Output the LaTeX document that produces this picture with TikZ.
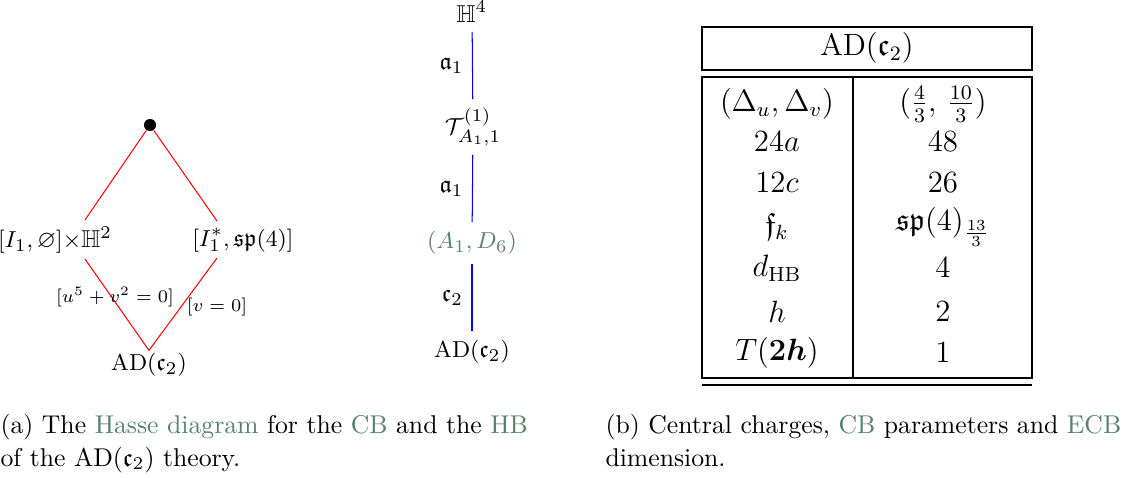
\documentclass[tikz,border=0pt]{standalone}
\usepackage{amsmath,amssymb}
\usepackage{tikz}
\usetikzlibrary{calc}
\definecolor{linkgreen}{RGB}{88,128,110}
\newcommand{\ADc}{\mathrm{AD}(\mathfrak{c}_2)}

\begin{document}
\begin{tikzpicture}[x=0.01367cm,y=-0.01367cm,
  dot/.style={circle,fill,inner sep=0pt,minimum size=4.7pt},
  hasse/.style={red,line width=0.4pt},
  chain/.style={blue,line width=0.4pt},
  diag/.style={font=\fontsize{9.5}{11.4}\selectfont},
  leg/.style={font=\fontsize{7.1}{8.5}\selectfont},
  cell/.style={font=\large,inner sep=1pt},
  tabline/.style={line width=1pt}]
  \useasboundingbox (0,0) rectangle (1139,477);
  % ---- left: Hasse diagram of the CB
  \node[dot] (top) at (150,125) {};
  \node[diag] (L) at (55,240) {$[I_1,\varnothing]{\times}\mathbb{H}^2$};
  \node[diag] (R) at (243,240) {$[I_1^*,\mathfrak{sp}(4)]$};
  \node[diag,inner sep=1pt] (B) at (149,365) {$\ADc$};
  \coordinate (Lhi) at (85,220); \coordinate (Llo) at (85,259);
  \coordinate (Rhi) at (217,221); \coordinate (Rlo) at (217,258);
  \draw[hasse] (top) -- (Lhi);
  \draw[hasse] (top) -- (Rhi);
  \draw[hasse] (Llo) -- (B.north);
  \draw[hasse] (Rlo) -- (B.north);
  \node[leg] (lu) at (115,297) {$[u^5+v^2=0]$};
  \node[leg] (lv) at (217,307) {$[v=0]$};
  % ---- middle: Hasse diagram of the HB
  \node[diag] (h4) at (472,12) {$\mathbb{H}^4$};
  \node[diag] (tt) at (473,127) {$\mathcal{T}^{(1)}_{A_1,1}$};
  \node[diag,text=linkgreen] (ad6) at (472,243) {$(A_1,D_6)$};
  \node[diag] (adc) at (472,352) {$\ADc$};
  \draw[chain] (h4) -- node[diag,left,black] {$\mathfrak{a}_1$} (tt);
  \draw[chain] (tt) -- node[diag,left,black] {$\mathfrak{a}_1$} (ad6);
  \draw[chain] (ad6) -- node[diag,left,black] {$\mathfrak{c}_2$} (adc);
  % ---- right: table of charges
  \draw[tabline] (702,27) rectangle (1032,70);
  \node[font=\large] (hd) at (867,48) {$\ADc$};
  \draw[tabline] (702,77) rectangle (1032,378);
  \draw[tabline] (853,77) -- (853,378);
  \draw[tabline] (702,385) -- (1032,385);
  \node[cell] (k1) at (777,104) {$(\Delta_u,\Delta_v)$};
  \node[cell] (v1) at (943,104) {$(\frac{4}{3},\,\frac{10}{3})$};
  \node[cell] (k2) at (777,142) {$24a$};
  \node[cell] (v2) at (943,142) {$48$};
  \node[cell] (k3) at (777,183) {$12c$};
  \node[cell] (v3) at (943,183) {$26$};
  \node[cell] (k4) at (777,227) {$\mathfrak{f}_k$};
  \node[cell] (v4) at (943,227) {$\mathfrak{sp}(4)_{\frac{13}{3}}$};
  \node[cell] (k5) at (777,268) {$d_{\mathrm{HB}}$};
  \node[cell] (v5) at (943,268) {$4$};
  \node[cell] (k6) at (777,312) {$h$};
  \node[cell] (v6) at (943,312) {$2$};
  \node[cell] (k7) at (777,353) {$T(\boldsymbol{2h})$};
  \node[cell] (v7) at (943,353) {$1$};
  % ---- captions
  \node[anchor=base west,inner sep=0pt] (ca1) at (0,433)
    {(a) The \textcolor{linkgreen}{Hasse diagram} for the \textcolor{linkgreen}{CB} and the \textcolor{linkgreen}{HB}};
  \node[anchor=base west,inner sep=0pt] (ca2) at (0,466)
    {of the $\ADc$ theory.};
  \node[anchor=base west,inner sep=0pt] (cb1) at (605,433)
    {(b) Central charges, \textcolor{linkgreen}{CB} parameters and \textcolor{linkgreen}{ECB}};
  \node[anchor=base west,inner sep=0pt] (cb2) at (605,466)
    {dimension.};
\end{tikzpicture}
\end{document}
